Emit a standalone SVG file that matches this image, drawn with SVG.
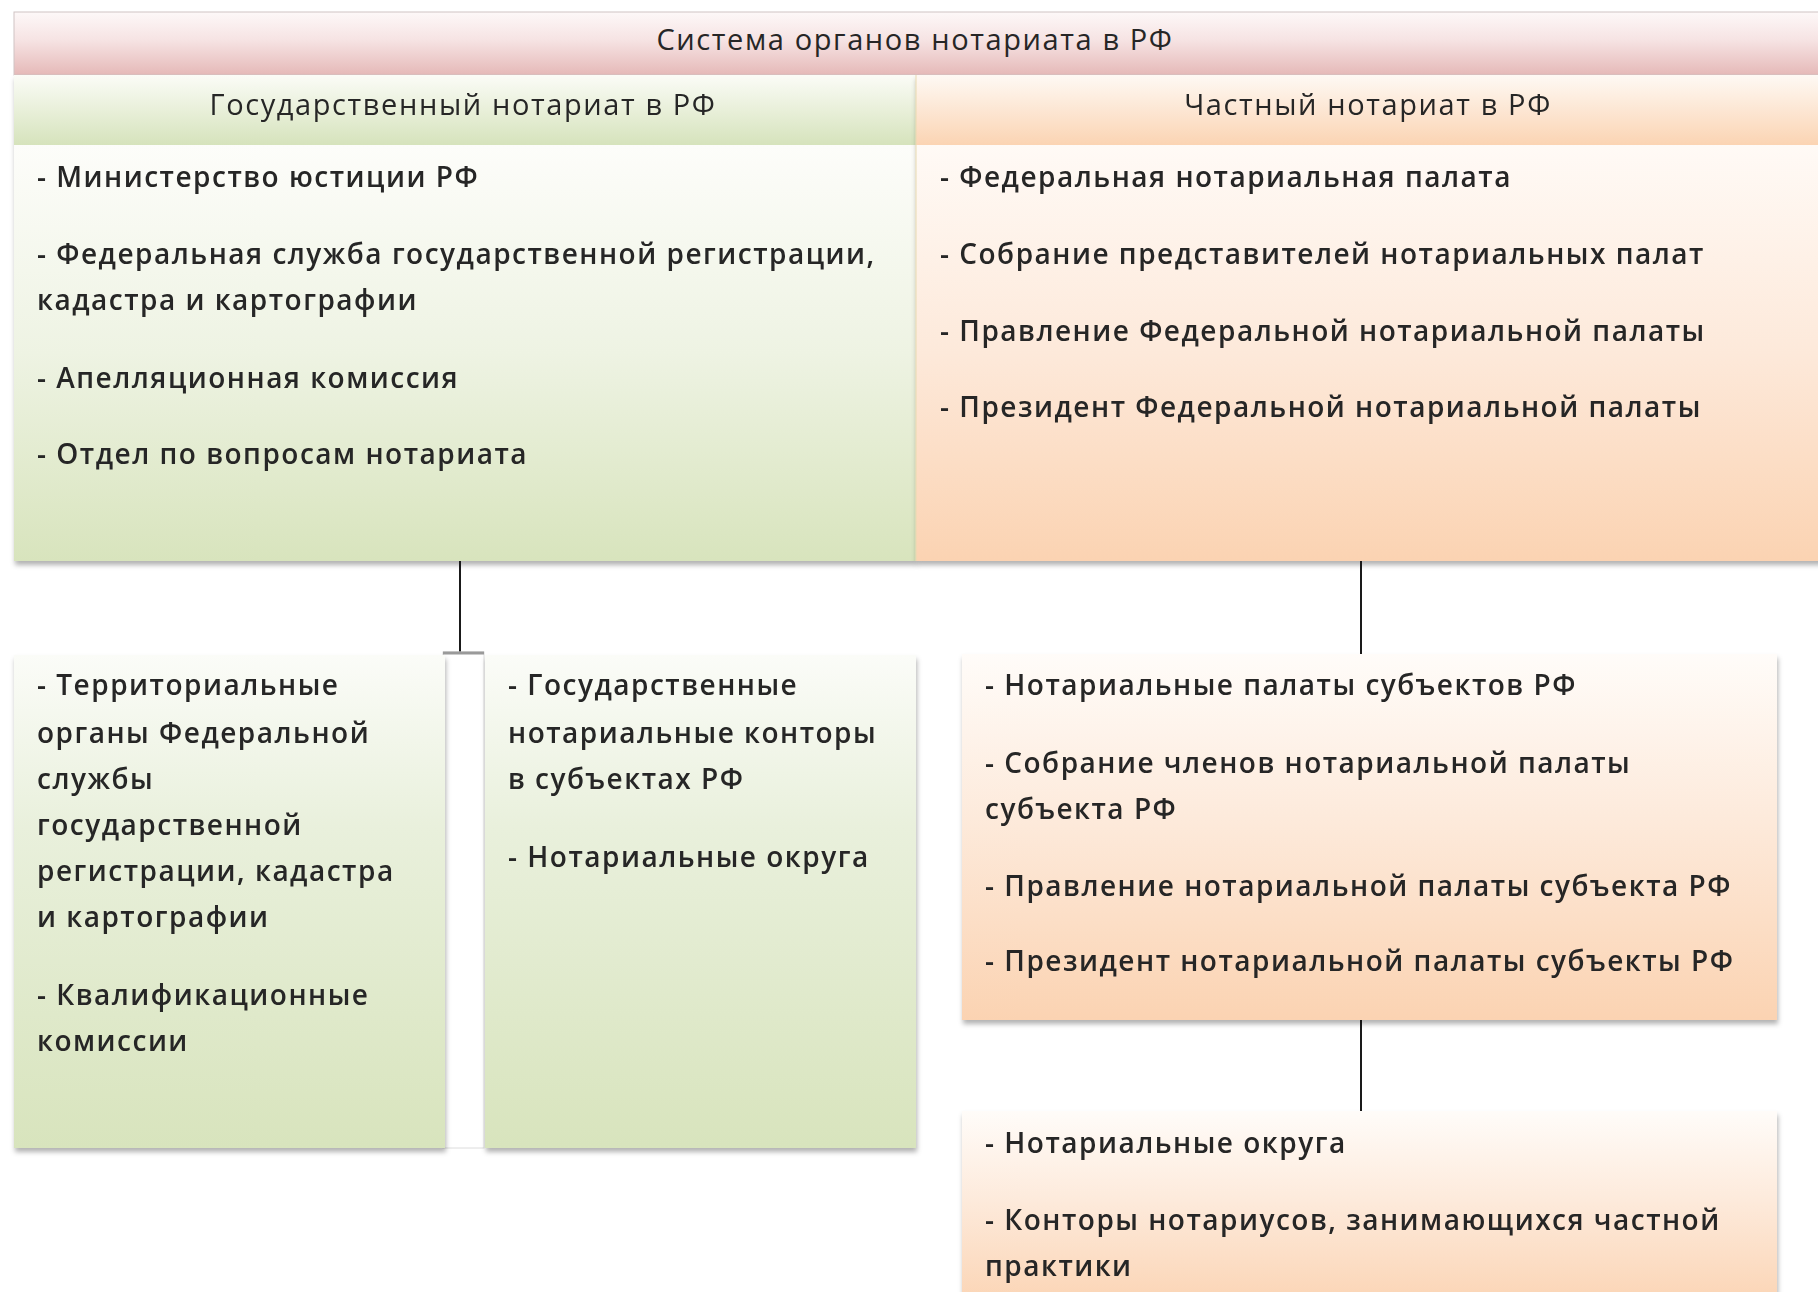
<svg xmlns="http://www.w3.org/2000/svg" width="1818" height="1292" viewBox="0 0 1818 1292">
<defs>
<linearGradient id="gPink" x1="0" y1="0" x2="0" y2="1"><stop offset="0" stop-color="#fdf8f8"/><stop offset="0.45" stop-color="#f6e3e3"/><stop offset="1" stop-color="#e5b9b8"/></linearGradient>
<linearGradient id="gGreenHead" x1="0" y1="0" x2="0" y2="1"><stop offset="0" stop-color="#fbfcf7"/><stop offset="1" stop-color="#d6e3bc"/></linearGradient>
<linearGradient id="gOrangeHead" x1="0" y1="0" x2="0" y2="1"><stop offset="0" stop-color="#fef9f4"/><stop offset="1" stop-color="#fbd4b3"/></linearGradient>
<linearGradient id="gGreenBody" x1="0" y1="0" x2="0" y2="1"><stop offset="0" stop-color="#fdfdfa"/><stop offset="0.5" stop-color="#eef3e3"/><stop offset="1" stop-color="#d8e4bd"/></linearGradient>
<linearGradient id="gOrangeBody" x1="0" y1="0" x2="0" y2="1"><stop offset="0" stop-color="#fffaf6"/><stop offset="0.5" stop-color="#fde9da"/><stop offset="1" stop-color="#fbd3b2"/></linearGradient>
<linearGradient id="gGreenBox" x1="0" y1="0" x2="0" y2="1"><stop offset="0" stop-color="#fbfcf8"/><stop offset="0.35" stop-color="#e9f0dc"/><stop offset="1" stop-color="#d8e4bd"/></linearGradient>
<linearGradient id="gOrangeBox" x1="0" y1="0" x2="0" y2="1"><stop offset="0" stop-color="#fffcf9"/><stop offset="0.45" stop-color="#fdeadb"/><stop offset="1" stop-color="#fbd3b2"/></linearGradient>
<filter id="shadow" x="-5%" y="-5%" width="110%" height="115%"><feDropShadow dx="1" dy="4" stdDeviation="2.5" flood-color="#000" flood-opacity="0.3"/></filter>
</defs>
<style>
.t{font-family:"Open Sans",Lato,"Liberation Sans",sans-serif;fill:#262626;}
.head{font-size:29px;letter-spacing:1.6px;text-anchor:middle;}
.b{font-size:28px;font-weight:600;letter-spacing:1.5px;}
.edge{stroke:#1a1a1a;stroke-width:2;fill:none;}
</style>
<rect width="1818" height="1292" fill="#ffffff"/>

<g id="title">
<rect x="14" y="12" width="1810" height="63" fill="url(#gPink)" stroke="#d0c4c4" stroke-width="1"/>
<text class="t head" x="915" y="50">Система органов нотариата в РФ</text>
</g>

<g id="state-notary" filter="url(#shadow)">
<rect x="14" y="75" width="902" height="70" fill="url(#gGreenHead)"/>
<rect x="14" y="145" width="902" height="416" fill="url(#gGreenBody)"/>
<text class="t head" x="463" y="115">Государственный нотариат в РФ</text>
<text class="t b" x="37" y="187">- Министерство юстиции РФ</text>
<text class="t b" x="37" y="264">- Федеральная служба государственной регистрации,</text>
<text class="t b" x="37" y="310">кадастра и картографии</text>
<text class="t b" x="37" y="388">- Апелляционная комиссия</text>
<text class="t b" x="37" y="464">- Отдел по вопросам нотариата</text>
</g>

<g id="private-notary" filter="url(#shadow)">
<rect x="916" y="75" width="910" height="70" fill="url(#gOrangeHead)"/>
<rect x="916" y="145" width="910" height="416" fill="url(#gOrangeBody)"/>
<line x1="916" y1="75" x2="916" y2="561" stroke="#e8d9b0" stroke-width="1"/>
<text class="t head" x="1368" y="115">Частный нотариат в РФ</text>
<text class="t b" x="940" y="187">- Федеральная нотариальная палата</text>
<text class="t b" x="940" y="264">- Собрание представителей нотариальных палат</text>
<text class="t b" x="940" y="341">- Правление Федеральной нотариальной палаты</text>
<text class="t b" x="940" y="417">- Президент Федеральной нотариальной палаты</text>
</g>

<g id="connectors">
<line class="edge" x1="460" y1="561" x2="460" y2="652"/>
<line class="edge" x1="1361" y1="561" x2="1361" y2="654"/>
<line class="edge" x1="1361" y1="1020" x2="1361" y2="1111"/>
</g>

<g id="gap-frame">
<rect x="443" y="652" width="41" height="496" fill="#ffffff" stroke="#dcdcdc" stroke-width="1"/>
<line x1="443" y1="653" x2="484" y2="653" stroke="#9a9a9a" stroke-width="3"/>
</g>

<g id="territorial" filter="url(#shadow)">
<rect x="14" y="655" width="431" height="493" fill="url(#gGreenBox)"/>
<text class="t b" x="37" y="695">- Территориальные</text>
<text class="t b" x="37" y="743">органы Федеральной</text>
<text class="t b" x="37" y="789">службы</text>
<text class="t b" x="37" y="835">государственной</text>
<text class="t b" x="37" y="881">регистрации, кадастра</text>
<text class="t b" x="37" y="927">и картографии</text>
<text class="t b" x="37" y="1005">- Квалификационные</text>
<text class="t b" x="37" y="1051">комиссии</text>
</g>

<g id="state-offices" filter="url(#shadow)">
<rect x="485" y="655" width="431" height="493" fill="url(#gGreenBox)"/>
<text class="t b" x="508" y="695">- Государственные</text>
<text class="t b" x="508" y="743">нотариальные конторы</text>
<text class="t b" x="508" y="789">в субъектах РФ</text>
<text class="t b" x="508" y="867">- Нотариальные округа</text>
</g>

<g id="regional-chambers" filter="url(#shadow)">
<rect x="962" y="654" width="815" height="366" fill="url(#gOrangeBox)"/>
<text class="t b" x="985" y="695">- Нотариальные палаты субъектов РФ</text>
<text class="t b" x="985" y="773">- Собрание членов нотариальной палаты</text>
<text class="t b" x="985" y="819">субъекта РФ</text>
<text class="t b" x="985" y="896">- Правление нотариальной палаты субъекта РФ</text>
<text class="t b" x="985" y="971">- Президент нотариальной палаты субъекты РФ</text>
</g>

<g id="private-offices" filter="url(#shadow)">
<rect x="962" y="1111" width="815" height="200" fill="url(#gOrangeBox)"/>
<text class="t b" x="985" y="1153">- Нотариальные округа</text>
<text class="t b" x="985" y="1230">- Конторы нотариусов, занимающихся частной</text>
<text class="t b" x="985" y="1276">практики</text>
</g>
</svg>
